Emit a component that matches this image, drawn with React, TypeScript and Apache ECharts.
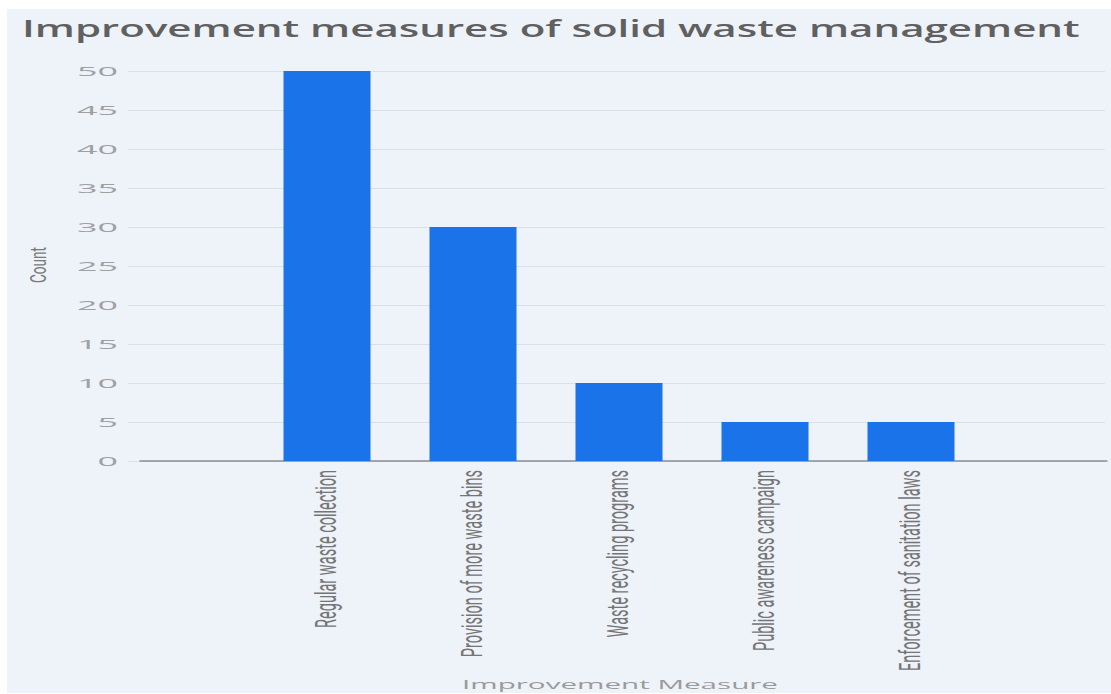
import React, { useEffect, useRef } from "react";
import * as echarts from "echarts";

const titleText = "Improvement measures of solid waste management";
const categories = [
  "Regular waste collection",
  "Provision of more waste bins",
  "Waste recycling programs",
  "Public awareness campaign",
  "Enforcement of sanitation laws",
];
const counts = [50, 30, 10, 5, 5];
const yTicks = [0, 5, 10, 15, 20, 25, 30, 35, 40, 45, 50];
const yAxisName = "Count";
const xAxisName = "Improvement Measure";

const SANS = "Open Sans";
const COND = "Roboto";

function measure(text: string, size: number, family: string, weight = "normal") {
  const c = document.createElement("canvas").getContext("2d") as CanvasRenderingContext2D;
  c.font = `${weight} ${size}px "${family}"`;
  return c.measureText(text).width;
}

export default function App() {
  const ref = useRef<HTMLDivElement>(null);
  useEffect(() => {
    document.body.style.margin = "0";
    const chart = echarts.init(ref.current as HTMLDivElement, null, { renderer: "svg" });
    chart.setOption({
      animation: false,
      backgroundColor: "transparent",
      grid: [
        { left: 128, right: 6, top: 71, bottom: 233 },
        { left: 254, right: 127, top: 71, bottom: 233 },
        { left: 140, right: 4, top: 71, bottom: 233 },
      ],
      xAxis: [
        { gridIndex: 0, type: "value", show: false, min: 0, max: 1 },
        {
          gridIndex: 1,
          type: "category",
          data: categories,
          axisLine: { show: false },
          axisTick: { show: false },
          axisLabel: { show: false },
        },
        {
          gridIndex: 2,
          type: "value",
          min: 0,
          max: 1,
          axisLine: { show: true, lineStyle: { color: "#8a8e96", width: 1.5 } },
          axisTick: { show: false },
          axisLabel: { show: false },
          splitLine: { show: false },
        },
      ],
      yAxis: [
        {
          gridIndex: 0,
          type: "value",
          min: 0,
          max: 50,
          interval: 5,
          axisLabel: { show: false },
          axisLine: { show: false },
          axisTick: { show: false },
          splitLine: { show: true, lineStyle: { color: "#dcdfe7", width: 1 } },
        },
        { gridIndex: 1, type: "value", min: 0, max: 50, show: false, splitLine: { show: false } },
        { gridIndex: 2, type: "value", min: 0, max: 50, show: false, splitLine: { show: false } },
      ],
      series: [
        {
          type: "bar",
          xAxisIndex: 1,
          yAxisIndex: 1,
          data: counts,
          barWidth: 87,
          itemStyle: { color: "#1a73e8" },
        },
      ],
    });

    const titleFont = 24;
    const sTitle = 1058 / measure(titleText, titleFont, SANS, "600");
    const yFont = 13;
    const sY = 41 / measure("50", yFont, SANS);
    const xFontBase = 13;
    const xFont = (xFontBase * 158) / measure(categories[0], xFontBase, COND);
    const stretch = 2.0;
    const cFont = (13 * 36) / measure(yAxisName, 13, COND);
    const sXName = 316 / measure(xAxisName, 13, SANS);

    const elements: any[] = [];
    elements.push({
      type: "text",
      x: 22,
      y: 28,
      scaleX: sTitle,
      style: {
        text: titleText,
        font: `600 ${titleFont}px "${SANS}"`,
        fill: "#606060",
        align: "left",
        verticalAlign: "middle",
      },
    });
    yTicks.forEach((v) => {
      const py = chart.convertToPixel({ yAxisIndex: 0 }, v) as number;
      elements.push({
        type: "text",
        x: 118,
        y: py,
        scaleX: sY,
        style: {
          text: String(v),
          font: `${yFont}px "${SANS}"`,
          fill: "#a0a0a0",
          align: "right",
          verticalAlign: "middle",
        },
      });
    });
    const axisY = chart.convertToPixel({ yAxisIndex: 1 }, 0) as number;
    categories.forEach((cat) => {
      const px = chart.convertToPixel({ xAxisIndex: 1 }, cat) as number;
      elements.push({
        type: "text",
        x: px,
        y: axisY + 9,
        rotation: Math.PI / 2,
        scaleY: stretch,
        style: {
          text: cat,
          font: `${xFont}px "${COND}"`,
          fill: "#757575",
          align: "right",
          verticalAlign: "middle",
        },
      });
    });
    elements.push({
      type: "text",
      x: 38,
      y: 265,
      rotation: Math.PI / 2,
      scaleY: stretch * 0.8,
      style: {
        text: yAxisName,
        font: `${cFont}px "${COND}"`,
        fill: "#7a7a7a",
        align: "center",
        verticalAlign: "middle",
      },
    });
    elements.push({
      type: "text",
      x: 620,
      y: 684,
      scaleX: sXName,
      style: {
        text: xAxisName,
        font: `13px "${SANS}"`,
        fill: "#9a9a9a",
        align: "center",
        verticalAlign: "middle",
      },
    });
    chart.setOption({ graphic: { elements } });

    return () => chart.dispose();
  }, []);

  return (
    <div style={{ position: "relative", width: 1111, height: 694, background: "#ffffff", overflow: "hidden" }}>
      <div
        style={{ position: "absolute", left: 7, top: 9, width: 1104, height: 684, background: "#eef2f9" }}
      />
      <div ref={ref} style={{ position: "absolute", left: 0, top: 0, width: 1111, height: 694 }} />
    </div>
  );
}
